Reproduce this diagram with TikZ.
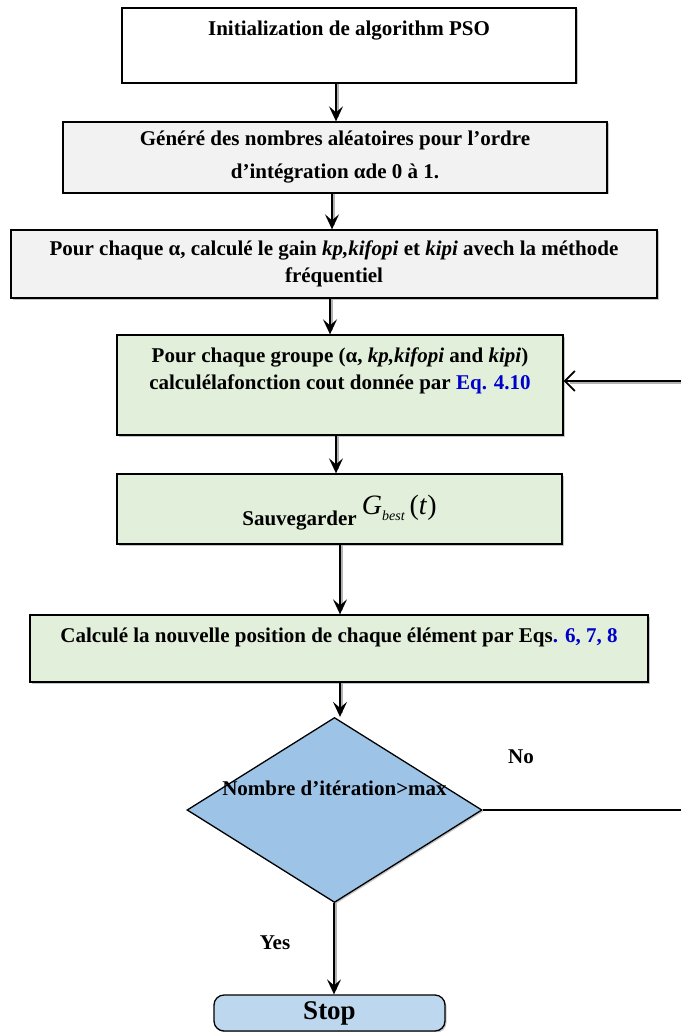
\documentclass[tikz,border=0pt]{standalone}
\usepackage{fontspec}
\setmainfont{Liberation Serif}
\usetikzlibrary{arrows.meta, shapes.geometric, shadows}

\definecolor{grisclair}{HTML}{F2F2F2}
\definecolor{vertclair}{HTML}{E2EFDA}
\definecolor{bleutest}{HTML}{9DC3E6}
\definecolor{bleustop}{HTML}{BDD7EE}
\definecolor{bleueq}{HTML}{0000CC}

\tikzset{
    boite/.style={draw, line width=1.3pt, rectangle, inner sep=0pt,
        drop shadow={shadow xshift=1.5pt, shadow yshift=-1.5pt, opacity=0.45}},
    texte/.style={font=\bfseries\fontsize{21}{27}\selectfont, align=center},
    fleche/.style={line width=1.7pt, -{Stealth[length=15pt, width=14pt, inset=6pt]}},
    ombre/.style={line width=1.7pt, gray!60},
    retour/.style={line width=1.7pt, -{Straight Barb[length=10pt, width=20pt, line width=1.7pt]}}
}

\begin{document}
\begin{tikzpicture}[x=1pt, y=-1pt]
        \useasboundingbox (0,0) rectangle (681,1032);
        % Initialisation
        \node[boite, fill=white, minimum width=454, minimum height=75] (init) at (349,45.5) {};
        \node[texte] (initTxt) at ([yshift=15pt]init.center) {Initialization de algorithm PSO};
        % Nombres aleatoires
        \node[boite, texte, fill=grisclair, minimum width=544, minimum height=71] (gen) at (335,157.5)
            {Généré des nombres aléatoires pour l’ordre\\[6pt] d’intégration αde 0 à 1.};
        % Gains kp, kifopi, kipi
        \node[boite, texte, fill=grisclair, minimum width=646, minimum height=68] (gain) at (334,264)
            {Pour chaque α, calculé le gain \textit{kp,kifopi} et \textit{kipi} avech la méthode\\ fréquentiel};
        % Fonction cout
        \node[boite, fill=vertclair, minimum width=446, minimum height=100] (cout) at (340,385) {};
        \node[texte] (coutTxt) at ([yshift=14pt]cout.center)
            {Pour chaque groupe (α, \textit{kp,kifopi} and \textit{kipi})\\ calculélafonction cout donnée par \textcolor{bleueq}{Eq. 4.10}};
        % Gbest
        \node[boite, fill=vertclair, minimum width=445, minimum height=70] (sauve) at (339.5,509) {};
        \node[texte, anchor=base] (sauveTxt) at ([yshift=-16pt]sauve.center)
            {Sauvegarder \raisebox{11pt}{\mdseries\fontsize{28}{28}\selectfont\textit{G}\raisebox{-6pt}{\fontsize{14}{14}\selectfont\textit{best}}\,(\textit{t})}};
        % Nouvelle position
        \node[boite, fill=vertclair, minimum width=618, minimum height=67] (pos) at (339,648.5) {};
        \node[texte] (posTxt) at ([yshift=11pt]pos.center)
            {Calculé la nouvelle position de chaque élément par Eqs\textcolor{bleueq}{. 6, 7, 8}};
        % Test d'arret
        \node[boite, diamond, fill=bleutest, minimum width=295, minimum height=185] (test) at (334.5,810) {};
        \node[texte] (testTxt) at ([yshift=22pt]test.center) {Nombre d’itération>max};
        % Stop
        \node[boite, fill=bleustop, rounded corners=10pt, minimum width=231, minimum height=36] (stop) at (329.5,1013)
            {\bfseries\fontsize{27}{27}\selectfont Stop};
        % Fleches (ombre grise puis trait noir)
        \foreach \a/\b/\x in {init/gen/336, gen/gain/332, gain/cout/330, cout/sauve/336, sauve/pos/340, pos/test/340, test/stop/334} {
            \draw[ombre] (\a.south -| \x+2,0) -- ([yshift=4pt]\b.north -| \x+2,0);
            \draw[fleche] (\a.south -| \x,0) -- (\b.north -| \x,0);
        }
        \node[texte] (yes) at (275,943) {Yes};
        \node[texte] (no) at (521,757) {No};
        % Boucle
        \coordinate (noFin) at (681,810);
        \draw[line width=1.3pt] (test.east) -- (noFin);
        \coordinate (retourDeb) at (681,381);
        \draw[ombre, line width=2.5pt] ([yshift=-2pt]retourDeb) -- ([yshift=-2pt, xshift=6pt]retourDeb -| cout.east);
        \draw[retour] (retourDeb) -- (retourDeb -| cout.east);
\end{tikzpicture}
\end{document}
